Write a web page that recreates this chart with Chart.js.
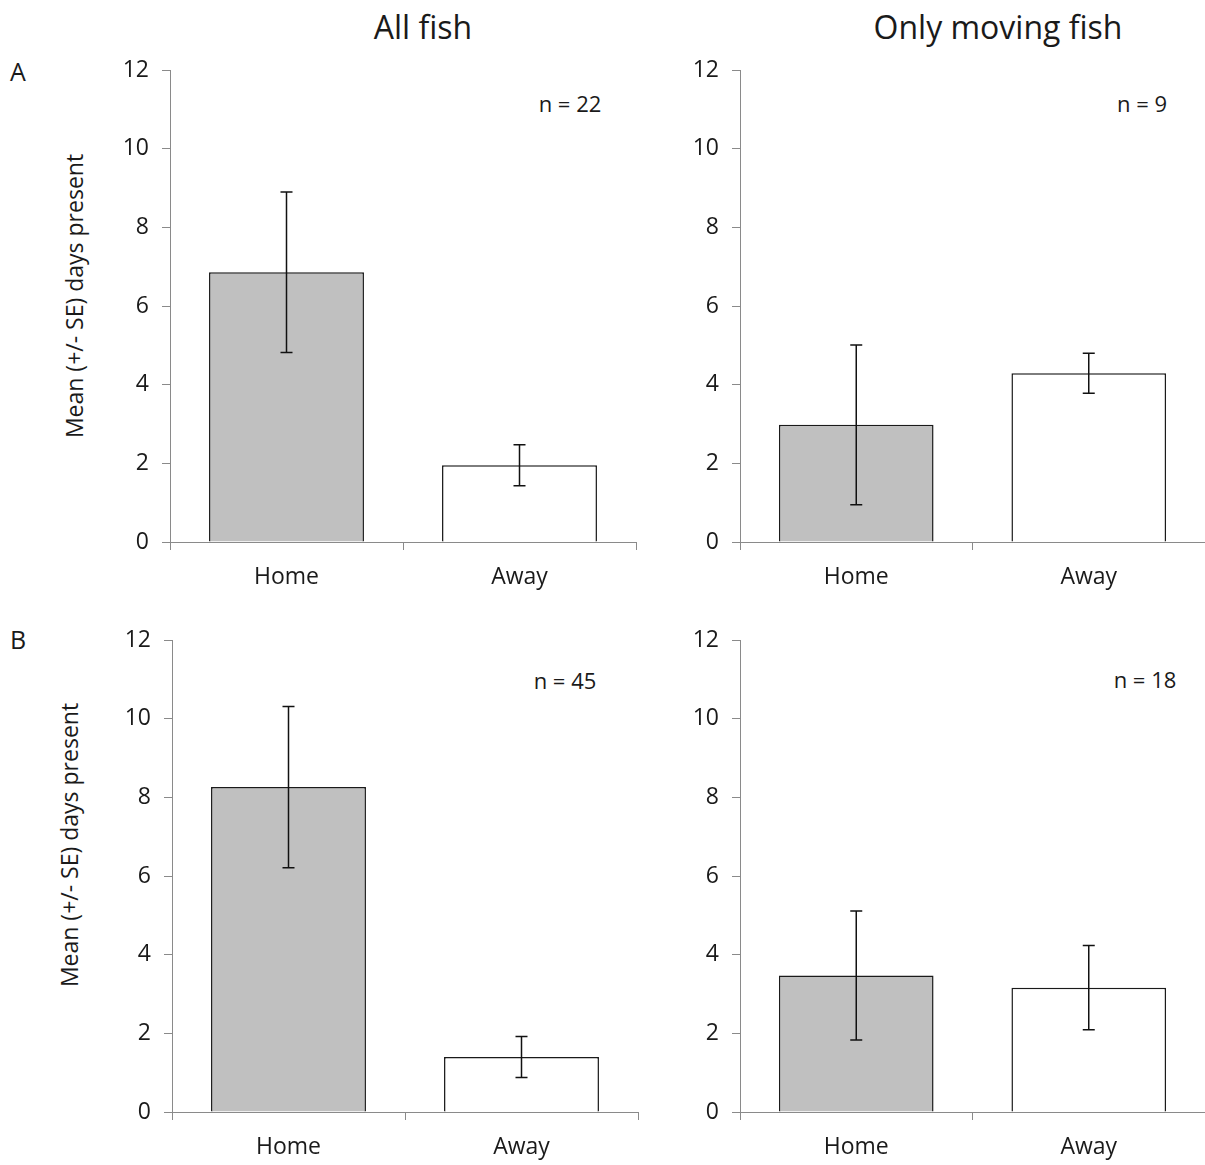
<!DOCTYPE html>
<html>
<head>
<meta charset="utf-8">
<script src="https://cdn.jsdelivr.net/npm/chart.js@4.4.1/dist/chart.umd.min.js"></script>
<style>
  html, body { margin: 0; padding: 0; background: #ffffff; overflow: hidden; }
  body { width: 1205px; height: 1165px; position: relative; font-family: "Open Sans", "DejaVu Sans", sans-serif; color: #1a1a1a; }
  canvas { position: absolute; }
  .t { position: absolute; transform: translate(-50%, -50%); white-space: nowrap; line-height: 1; }
  .rot { transform: translate(-50%, -50%) rotate(-90deg); }
</style>
</head>
<body>

<div class="t" style="left:423px; top:27px; font-size:32px;">All fish</div>
<div class="t" style="left:998px; top:27px; font-size:32px;">Only moving fish</div>
<div class="t" style="left:18px; top:71px; font-size:25px;">A</div>
<div class="t" style="left:18px; top:639px; font-size:25px;">B</div>
<div class="t rot" style="left:74px; top:296px; font-size:23px;">Mean (+/- SE) days present</div>
<div class="t rot" style="left:69px; top:845px; font-size:23px;">Mean (+/- SE) days present</div>
<div class="t" style="left:570px; top:103px; font-size:22px;">n = 22</div>
<div class="t" style="left:1142px; top:103px; font-size:22px;">n = 9</div>
<div class="t" style="left:565px; top:680px; font-size:22px;">n = 45</div>
<div class="t" style="left:1145px; top:679px; font-size:22px;">n = 18</div>

<canvas id="cA1" width="546" height="547" style="left:100px; top:50px;"></canvas>
<canvas id="cA2" width="535" height="547" style="left:670px; top:50px;"></canvas>
<canvas id="cB1" width="546" height="547" style="left:102px; top:620px;"></canvas>
<canvas id="cB2" width="535" height="547" style="left:670px; top:620px;"></canvas>

<script>
// ---- data ----
const categories = ['Home', 'Away'];
const yTickValues = [0, 2, 4, 6, 8, 10, 12];

const meanAllA    = [6.86, 1.95];
const seAllA      = [2.04, 0.52];
const meanMovingA = [2.98, 4.29];
const seMovingA   = [2.03, 0.51];
const meanAllB    = [8.26, 1.40];
const seAllB      = [2.05, 0.52];
const meanMovingB = [3.47, 3.16];
const seMovingB   = [1.64, 1.07];

const barColors = ['#c0c0c0', '#ffffff'];

// error bar plugin: uses the chart's own scales
const errorBars = {
  id: 'errorBars',
  afterDatasetsDraw(chart, args, opts) {
    const ctx = chart.ctx;
    const y = chart.scales.y;
    const meta = chart.getDatasetMeta(0);
    const means = chart.data.datasets[0].data;
    const se = opts.se || [];
    ctx.save();
    ctx.strokeStyle = '#111111';
    ctx.lineWidth = 1.5;
    meta.data.forEach((el, i) => {
      const x = el.x;
      const yt = y.getPixelForValue(means[i] + se[i]);
      const yb = y.getPixelForValue(means[i] - se[i]);
      ctx.beginPath();
      ctx.moveTo(x, yt); ctx.lineTo(x, yb);
      ctx.moveTo(x - 6, yt); ctx.lineTo(x + 6, yt);
      ctx.moveTo(x - 6, yb); ctx.lineTo(x + 6, yb);
      ctx.stroke();
    });
    ctx.restore();
  }
};

const FONT = '"Open Sans", "DejaVu Sans", sans-serif';

function makePanel(id, means, se, padRight) {
  return new Chart(document.getElementById(id), {
    type: 'bar',
    data: {
      labels: categories,
      datasets: [{
        data: means,
        backgroundColor: barColors,
        borderColor: '#1a1a1a',
        borderWidth: 1.5,
        borderSkipped: 'bottom',
        categoryPercentage: 1.0,
        barPercentage: 0.665
      }]
    },
    options: {
      responsive: false,
      animation: false,
      devicePixelRatio: 1,
      layout: { padding: { top: 20, right: padRight, bottom: 0, left: 0 } },
      plugins: {
        legend: { display: false },
        tooltip: { enabled: false },
        errorBars: { se: se }
      },
      scales: {
        x: {
          offset: true,
          afterFit(s) { s.height = 55; s.paddingLeft = 0; s.paddingRight = 0; },
          grid: { display: true, offset: true, drawOnChartArea: false, drawTicks: true, tickLength: 8, color: '#8a8a8a', lineWidth: 1 },
          border: { display: true, color: '#8a8a8a', width: 1 },
          ticks: { color: '#1a1a1a', font: { family: FONT, size: 23 }, padding: 14 }
        },
        y: {
          min: 0, max: 12,
          afterFit(s) { s.width = 70; s.paddingTop = 0; s.paddingBottom = 0; },
          afterBuildTicks(s) { s.ticks = yTickValues.map(v => ({ value: v })); },
          grid: { display: true, drawOnChartArea: false, drawTicks: true, tickLength: 8, color: '#8a8a8a', lineWidth: 1 },
          border: { display: true, color: '#8a8a8a', width: 1 },
          ticks: { color: '#1a1a1a', font: { family: FONT, size: 23 }, padding: 13 }
        }
      }
    },
    plugins: [errorBars]
  });
}

makePanel('cA1', meanAllA, seAllA, 10);
makePanel('cA2', meanMovingA, seMovingA, 0);
makePanel('cB1', meanAllB, seAllB, 10);
makePanel('cB2', meanMovingB, seMovingB, 0);
</script>
</body>
</html>
